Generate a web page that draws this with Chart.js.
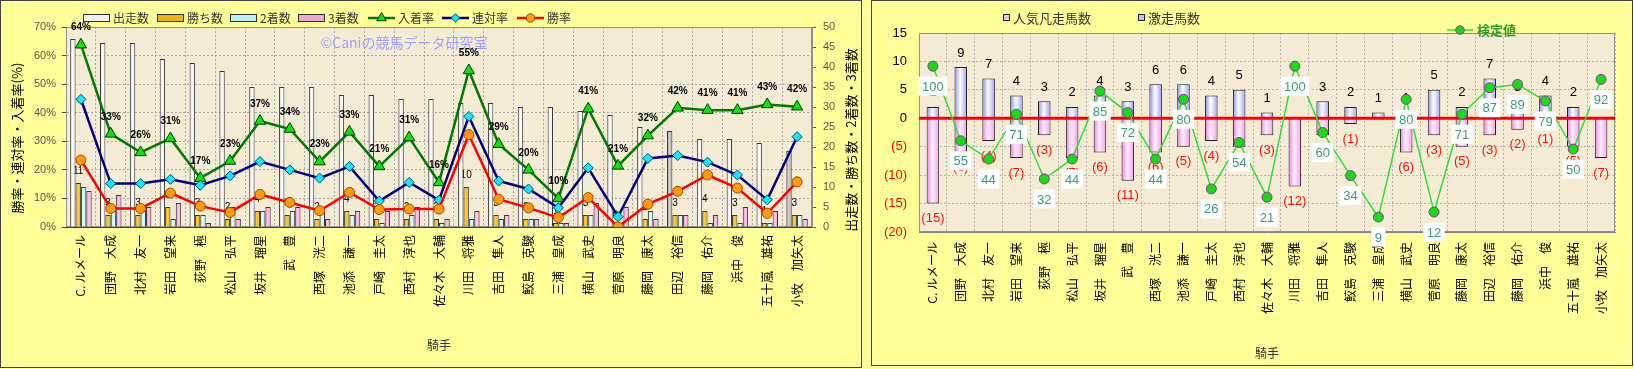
<!DOCTYPE html>
<html lang="ja">
<head>
<meta charset="utf-8">
<title>騎手別成績</title>
<script src="https://cdn.jsdelivr.net/npm/chart.js@4.4.1/dist/chart.umd.min.js"></script>
<style>
  html, body { margin: 0; padding: 0; }
  body { width: 1634px; height: 369px; background: #FFFF99; position: relative; overflow: hidden; }
  .panel { position: absolute; top: 0; box-sizing: border-box; border: 1px solid #404040; background: #FFFF99; }
  #left-panel { left: 0; width: 862px; height: 368px; }
  #right-panel { left: 871px; width: 762px; height: 366px; }
  canvas { position: absolute; top: 0; }
  #left-chart { left: 0; }
  #right-chart { left: 872px; }
</style>
</head>
<body>
<div class="panel" id="left-panel"></div>
<div class="panel" id="right-panel"></div>
<canvas id="left-chart" width="862" height="368"></canvas>
<canvas id="right-chart" width="760" height="366"></canvas>
<script>
const JP = '"Noto Sans CJK JP", sans-serif';
const NUM = '"Liberation Sans", Arial, sans-serif';

const jockeys = [
  'C. ルメール', '団野　大成', '北村　友一', '岩田　望来', '荻野　極',
  '松山　弘平', '坂井　瑠星', '武　豊', '西塚　洸二', '池添　謙一',
  '戸崎　圭太', '西村　淳也', '佐々木　大輔', '川田　将雅', '吉田　隼人',
  '鮫島　克駿', '三浦　皇成', '横山　武史', '菅原　明良', '藤岡　康太',
  '田辺　裕信', '藤岡　佑介', '浜中　俊', '五十嵐　雄祐', '小牧　加矢太'
];

// left chart - counts (right axis)
const starts  = [47, 46, 46, 42, 41, 39, 35, 35, 35, 33, 33, 32, 32, 31, 31, 30, 30, 29, 28, 25, 24, 22, 22, 21, 19];
const wins    = [11, 3, 3, 5, 3, 2, 4, 3, 2, 4, 2, 2, 2, 10, 3, 2, 1, 3, 0, 2, 3, 4, 3, 1, 3];
const seconds = [10, 4, 4, 2, 3, 5, 4, 4, 4, 3, 1, 3, 1, 2, 2, 2, 1, 3, 1, 4, 3, 1, 1, 1, 3];
const thirds  = [9, 8, 5, 6, 1, 2, 5, 5, 2, 4, 4, 5, 2, 4, 3, 2, 1, 6, 5, 2, 3, 3, 5, 4, 2];

// left chart - rates in % (left axis)
const placeRate    = [63.8, 32.6, 26.1, 31.0, 17.1, 23.1, 37.1, 34.3, 22.9, 33.3, 21.2, 31.3, 15.6, 54.8, 29.0, 20.0, 10.0, 41.4, 21.4, 32.0, 41.7, 40.9, 40.9, 42.9, 42.1];
const quinellaRate = [44.7, 15.2, 15.2, 16.7, 14.6, 17.9, 22.9, 20.0, 17.1, 21.2, 9.1, 15.6, 9.4, 38.7, 16.1, 13.3, 6.7, 20.7, 3.6, 24.0, 25.0, 22.7, 18.2, 9.5, 31.6];
const winRate      = [23.4, 6.5, 6.5, 11.9, 7.3, 5.1, 11.4, 8.6, 5.7, 12.1, 6.1, 6.3, 6.3, 32.3, 9.7, 6.7, 3.3, 10.3, 0, 8.0, 12.5, 18.2, 13.6, 4.8, 15.8];

// right chart
const hotCounts  = [2, 9, 7, 4, 3, 2, 4, 3, 6, 6, 4, 5, 1, 0, 3, 2, 1, 1, 5, 2, 7, 3, 4, 2, 0];
const flopCounts = [-15, -6, -4, -7, -3, -7, -6, -11, -6, -5, -4, -5, -3, -12, -3, -1, 0, -6, -3, -5, -3, -2, -1, -5, -7];
const testValues = [100, 55, 44, 71, 32, 44, 85, 72, 44, 80, 26, 54, 21, 100, 60, 34, 9, 80, 12, 71, 87, 89, 79, 50, 92];

// jockeys whose start bar is shaded grey
const shadedJockeys = ['田辺　裕信', '小牧　加矢太'];

Chart.defaults.font.family = JP;
Chart.defaults.animation = false;

const LEFT_CAT = 0.72;
const RIGHT_BAR = 0.45;

// cylinder-like shading across a bar; slot = position of the bar inside its category group
function barShade(c, slot, slots, share, stops) {
  const chart = c.chart;
  const xs = chart.scales.x;
  if (!xs || c.dataIndex === undefined || !chart.chartArea) return stops[1];
  const cat = xs.width / chart.data.labels.length;
  const groupW = cat * share;
  const bw = groupW / slots;
  const x0 = xs.getPixelForValue(c.dataIndex) - groupW / 2 + slot * bw;
  const g = chart.ctx.createLinearGradient(x0, 0, x0 + bw, 0);
  g.addColorStop(0, stops[0]);
  g.addColorStop(0.45, stops[1]);
  g.addColorStop(1, stops[2]);
  return g;
}

const plotBackground = {
  id: 'plotBackground',
  beforeDraw(chart) {
    const { ctx, chartArea: a } = chart;
    ctx.save();
    ctx.fillStyle = '#F4EBD5';
    ctx.fillRect(a.left, a.top, a.width, a.height);
    ctx.restore();
  }
};

function drawFrame(chart) {
  const { ctx, chartArea: a } = chart;
  ctx.save();
  ctx.strokeStyle = '#909090';
  ctx.lineWidth = 1;
  ctx.strokeRect(Math.round(a.left) + 0.5, Math.round(a.top) + 0.5, Math.round(a.width) - 1, Math.round(a.height) - 1);
  ctx.restore();
}

function drawKey(ctx, ds, x, y, w) {
  ctx.save();
  if (ds.type === 'bar') {
    ctx.fillStyle = ds.keyColor;
    ctx.fillRect(x, y - 4, w, 8);
    ctx.strokeStyle = '#303030';
    ctx.lineWidth = 1;
    ctx.strokeRect(x + 0.5, y - 3.5, w - 1, 7);
  } else {
    ctx.strokeStyle = ds.borderColor;
    ctx.lineWidth = ds.borderWidth;
    ctx.beginPath();
    ctx.moveTo(x, y);
    ctx.lineTo(x + w, y);
    ctx.stroke();
    ctx.fillStyle = ds.pointBackgroundColor;
    ctx.strokeStyle = ds.pointBorderColor;
    ctx.lineWidth = 1;
    Chart.helpers.drawPoint(ctx, { pointStyle: ds.pointStyle, radius: ds.pointRadius * 0.85, rotation: 0, borderWidth: 1 }, x + w / 2, y);
  }
  ctx.restore();
}

function verticalText(ctx, text, x, y, font) {
  ctx.save();
  ctx.translate(x, y);
  ctx.rotate(-Math.PI / 2);
  ctx.font = font;
  ctx.fillStyle = '#000';
  ctx.textAlign = 'center';
  ctx.textBaseline = 'middle';
  ctx.fillText(text, 0, 0);
  ctx.restore();
}

// ---------- left chart ----------
const leftDecor = {
  id: 'leftDecor',
  beforeDatasetsDraw(chart) {
    const ctx = chart.ctx;
    drawFrame(chart);
    ctx.save();
    ctx.fillStyle = '#9EA2FF';
    ctx.font = '14px ' + JP;
    ctx.textAlign = 'center';
    ctx.textBaseline = 'middle';
    ctx.fillText('©Caniの競馬データ研究室', 404, 43);
    // win counts sit behind the bars
    const meta = chart.getDatasetMeta(4);
    ctx.fillStyle = '#000';
    ctx.font = '10px ' + NUM;
    meta.data.forEach((bar, i) => ctx.fillText(String(wins[i]), bar.x, bar.y - 12));
    ctx.restore();
  },
  afterDatasetsDraw(chart) {
    const ctx = chart.ctx;
    const meta = chart.getDatasetMeta(2);
    ctx.save();
    ctx.fillStyle = '#000';
    ctx.font = 'bold 10px ' + NUM;
    ctx.textAlign = 'center';
    ctx.textBaseline = 'middle';
    meta.data.forEach((pt, i) => ctx.fillText(Math.round(placeRate[i]) + '%', pt.x, pt.y - 17));
    ctx.restore();
  },
  afterDraw(chart) {
    const ctx = chart.ctx;
    const order = ['出走数', '勝ち数', '2着数', '3着数', '入着率', '連対率', '勝率'];
    const xs = [83, 157, 230, 298, 368, 442, 517];
    order.forEach((label, k) => {
      const ds = chart.data.datasets.find(d => d.label === label);
      drawKey(ctx, ds, xs[k], 18, 27);
      ctx.save();
      ctx.fillStyle = '#333';
      ctx.font = '12px ' + JP;
      ctx.textBaseline = 'middle';
      ctx.fillText(label, xs[k] + 30, 18);
      ctx.restore();
    });
    verticalText(ctx, '勝率・連対率・入着率(%)', 17, 138, '13px ' + JP);
    verticalText(ctx, '出走数・勝ち数・2着数・3着数', 851, 140, '13px ' + JP);
  }
};

new Chart(document.getElementById('left-chart'), {
  type: 'bar',
  data: {
    labels: jockeys,
    datasets: [
      { type: 'line', label: '勝率', data: winRate, yAxisID: 'y', order: 0,
        borderColor: '#FF0000', borderWidth: 2.5, pointStyle: 'circle', pointRadius: 5,
        pointBackgroundColor: '#FF9A10', pointBorderColor: '#A04800', pointBorderWidth: 1 },
      { type: 'line', label: '連対率', data: quinellaRate, yAxisID: 'y', order: 1,
        borderColor: '#00007E', borderWidth: 2.5, pointStyle: 'rectRot', pointRadius: 5,
        pointBackgroundColor: '#10E8FF', pointBorderColor: '#00506A', pointBorderWidth: 1 },
      { type: 'line', label: '入着率', data: placeRate, yAxisID: 'y', order: 2,
        borderColor: '#007A00', borderWidth: 2.5, pointStyle: 'triangle', pointRadius: 6.5,
        pointBackgroundColor: '#10E010', pointBorderColor: '#004000', pointBorderWidth: 1 },
      { type: 'bar', label: '出走数', data: starts, yAxisID: 'y1', order: 3, keyColor: '#F0F0F0',
        backgroundColor: c => shadedJockeys.includes(jockeys[c.dataIndex])
          ? barShade(c, 0, 4, LEFT_CAT, ['#8C8C8C', '#D4D4D4', '#A0A0A0'])
          : barShade(c, 0, 4, LEFT_CAT, ['#C4C4C4', '#FFFFFF', '#E8E8E8']),
        borderColor: '#383838', borderWidth: 1, categoryPercentage: LEFT_CAT, barPercentage: 1 },
      { type: 'bar', label: '勝ち数', data: wins, yAxisID: 'y1', order: 4, keyColor: '#F2B400',
        backgroundColor: c => barShade(c, 1, 4, LEFT_CAT, ['#D89A00', '#FFD040', '#E8A800']),
        borderColor: '#383838', borderWidth: 1, categoryPercentage: LEFT_CAT, barPercentage: 1 },
      { type: 'bar', label: '2着数', data: seconds, yAxisID: 'y1', order: 5, keyColor: '#B8F2F4',
        backgroundColor: c => barShade(c, 2, 4, LEFT_CAT, ['#8ED8DC', '#E4FFFF', '#A8E8EC']),
        borderColor: '#383838', borderWidth: 1, categoryPercentage: LEFT_CAT, barPercentage: 1 },
      { type: 'bar', label: '3着数', data: thirds, yAxisID: 'y1', order: 6, keyColor: '#F2A6D6',
        backgroundColor: c => barShade(c, 3, 4, LEFT_CAT, ['#E078C0', '#FFCCEE', '#EA90CC']),
        borderColor: '#383838', borderWidth: 1, categoryPercentage: LEFT_CAT, barPercentage: 1 }
    ]
  },
  options: {
    responsive: false,
    layout: { padding: { top: 27, left: 0, right: 0, bottom: 0 } },
    plugins: { legend: { display: false }, tooltip: { enabled: false } },
    scales: {
      x: {
        offset: true,
        grid: { offset: true, color: '#A8A8A8', drawTicks: false },
        border: { color: '#404040', dash: [2, 2] },
        ticks: { autoSkip: false, minRotation: 90, maxRotation: 90, padding: 8, color: '#000', font: { family: JP, size: 12 } },
        title: { display: true, text: '騎手', color: '#333', font: { family: JP, size: 12 }, padding: { top: 0, bottom: 15 } },
        afterFit: s => { s.height = 141; }
      },
      y: {
        position: 'left', min: 0, max: 70,
        grid: { color: '#A8A8A8', tickLength: 4, tickColor: '#404040' },
        border: { color: '#404040', dash: [2, 2] },
        ticks: { stepSize: 10, padding: 6, color: '#555', font: { family: NUM, size: 11 }, callback: v => v + '%' },
        afterFit: s => { s.width = 66; }
      },
      y1: {
        position: 'right', min: 0, max: 50,
        grid: { drawOnChartArea: false, tickLength: 4, tickColor: '#606060' },
        border: { color: '#909090' },
        ticks: { stepSize: 5, padding: 7, color: '#555', font: { family: NUM, size: 11 } },
        afterFit: s => { s.width = 50; }
      }
    }
  },
  plugins: [plotBackground, leftDecor]
});

// ---------- right chart ----------
const rightDecor = {
  id: 'rightDecor',
  beforeDatasetsDraw(chart) {
    drawFrame(chart);
  },
  beforeDatasetDraw(chart, args) {
    if (args.meta.type !== 'line') return;
    const { ctx, chartArea: a } = chart;
    const y0 = chart.scales.y.getPixelForValue(0);
    ctx.save();
    ctx.strokeStyle = '#FF0000';
    ctx.lineWidth = 3;
    ctx.beginPath();
    ctx.moveTo(a.left, y0);
    ctx.lineTo(a.right, y0);
    ctx.stroke();
    ctx.font = '13px ' + NUM;
    ctx.textAlign = 'center';
    ctx.textBaseline = 'middle';
    chart.getDatasetMeta(1).data.forEach((bar, i) => {
      if (!hotCounts[i]) return;
      ctx.fillStyle = '#000';
      ctx.fillText(String(hotCounts[i]), bar.x, bar.y - 14);
    });
    chart.getDatasetMeta(2).data.forEach((bar, i) => {
      if (!flopCounts[i]) return;
      ctx.fillStyle = '#FF1010';
      ctx.fillText('(' + (-flopCounts[i]) + ')', bar.x, bar.y + 15);
    });
    ctx.restore();
  },
  afterDatasetsDraw(chart) {
    const ctx = chart.ctx;
    ctx.save();
    ctx.font = '13px ' + NUM;
    ctx.textAlign = 'center';
    ctx.textBaseline = 'middle';
    chart.getDatasetMeta(0).data.forEach((pt, i) => {
      const txt = String(testValues[i]);
      const w = ctx.measureText(txt).width + 7;
      const h = 19;
      const cy = pt.y + 20;
      ctx.fillStyle = '#FFFFFF';
      ctx.fillRect(pt.x - w / 2, cy - h / 2, w, h);
      ctx.fillStyle = '#3A9A7C';
      ctx.fillText(txt, pt.x, cy + 1);
    });
    ctx.restore();
  },
  afterDraw(chart) {
    const ctx = chart.ctx;
    const sets = chart.data.datasets;
    ctx.save();
    ctx.font = '13px ' + JP;
    ctx.textBaseline = 'middle';
    const squares = [[sets[2], 131], [sets[1], 266]];
    squares.forEach(([ds, x]) => {
      ctx.fillStyle = ds.keyColor;
      ctx.fillRect(x, 14, 7, 7);
      ctx.strokeStyle = '#202020';
      ctx.lineWidth = 1;
      ctx.strokeRect(x + 0.5, 14.5, 6, 6);
      ctx.fillStyle = '#333';
      ctx.fillText(ds.label, x + 10, 18);
    });
    drawKey(ctx, sets[0], 575, 30, 26);
    ctx.fillStyle = '#2E9A2E';
    ctx.font = 'bold 13px ' + JP;
    ctx.fillText(sets[0].label, 605, 30);
    ctx.restore();
  }
};

new Chart(document.getElementById('right-chart'), {
  type: 'bar',
  data: {
    labels: jockeys,
    datasets: [
      { type: 'line', label: '検定値', data: testValues, yAxisID: 'y2', order: 0,
        borderColor: '#33DD33', borderWidth: 1.5, pointStyle: 'circle', pointRadius: 5,
        pointBackgroundColor: '#10E010', pointBorderColor: '#993399', pointBorderWidth: 1 },
      { type: 'bar', label: '激走馬数', data: hotCounts, yAxisID: 'y', stack: 'jockey', order: 1, keyColor: '#B8C0FF',
        backgroundColor: c => barShade(c, 0, 1, RIGHT_BAR, ['#7C8CF4', '#FFFFFF', '#98A4F8']),
        borderColor: '#202020', borderWidth: 1, categoryPercentage: 1, barPercentage: RIGHT_BAR },
      { type: 'bar', label: '人気凡走馬数', data: flopCounts, yAxisID: 'y', stack: 'jockey', order: 2, keyColor: '#F8C4F2',
        backgroundColor: c => barShade(c, 0, 1, RIGHT_BAR, ['#EE78E4', '#FFF0FF', '#F49CEC']),
        borderColor: '#202020', borderWidth: 1, categoryPercentage: 1, barPercentage: RIGHT_BAR }
    ]
  },
  options: {
    responsive: false,
    layout: { padding: { top: 33, left: 0, right: 17, bottom: 0 } },
    plugins: { legend: { display: false }, tooltip: { enabled: false } },
    scales: {
      x: {
        stacked: true,
        offset: true,
        grid: { offset: true, color: '#B4B4B4', drawTicks: false },
        border: { color: '#808080', dash: [2, 2] },
        ticks: { autoSkip: false, minRotation: 90, maxRotation: 90, padding: 10, color: '#000', font: { family: JP, size: 12 } },
        title: { display: true, text: '騎手', color: '#333', font: { family: JP, size: 12 }, padding: { top: 0, bottom: 5 } },
        afterFit: s => { s.height = 134; }
      },
      y: {
        stacked: true, min: -20, max: 15,
        grid: { color: '#B4B4B4', drawTicks: false },
        border: { color: '#808080', dash: [2, 2] },
        ticks: {
          stepSize: 5, padding: 12, font: { family: NUM, size: 13 },
          color: c => c.tick.value < 0 ? '#FF0000' : '#000',
          callback: v => v < 0 ? '(' + (-v) + ')' : String(v)
        },
        afterFit: s => { s.width = 47; }
      },
      y2: { display: false, min: 0, max: 120 }
    }
  },
  plugins: [plotBackground, rightDecor]
});
</script>
</body>
</html>
